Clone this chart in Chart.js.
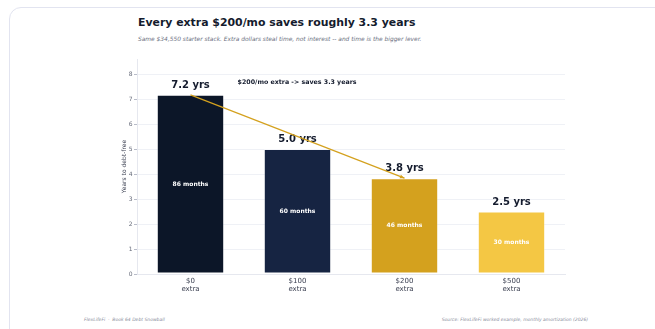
<!DOCTYPE html>
<html>
<head>
<meta charset="utf-8">
<script src="https://cdn.jsdelivr.net/npm/chart.js@4/dist/chart.umd.min.js"></script>
<style>
  html, body { margin: 0; padding: 0; background: #fff; }
  body { width: 655px; height: 329px; position: relative; overflow: hidden; font-family: "DejaVu Sans", sans-serif; }
  .card { position: absolute; left: 9px; top: 7px; width: 680px; height: 360px; border: 1px solid #e2e4f0; border-radius: 12px; box-sizing: border-box; }
  .title { position: absolute; left: 138px; top: 16px; font-size: 10.9px; font-weight: bold; color: #141b2d; white-space: nowrap; }
  .subtitle { position: absolute; left: 138px; top: 36px; font-size: 5.9px; font-style: italic; color: #6b6f80; white-space: nowrap; }
  .foot { position: absolute; top: 317px; font-size: 4.5px; font-style: italic; color: #8a8d9c; white-space: nowrap; }
  #chart { position: absolute; left: 0; top: 0; }
</style>
</head>
<body>
<div class="card"></div>
<div class="title">Every extra $200/mo saves roughly 3.3 years</div>
<div class="subtitle">Same $34,550 starter stack. Extra dollars steal time, not interest -- and time is the bigger lever.</div>
<div class="foot" style="left:84px">FlexLifeFi &nbsp;·&nbsp; Book 64 Debt Snowball</div>
<div class="foot" style="right:67px">Source: FlexLifeFi worked example, monthly amortization (2026)</div>
<canvas id="chart" width="655" height="329"></canvas>
<script>
const extraLabels = [['$0', 'extra'], ['$100', 'extra'], ['$200', 'extra'], ['$500', 'extra']]
const monthsToFree = [86, 60, 46, 30]
const yearsToFree = monthsToFree.map(m => m / 12)
const barColors = ['#0c1628', '#162442', '#d4a11e', '#f4c744']
const calloutText = '$200/mo extra -> saves 3.3 years'

// years above each bar, months inside it
const barLabels = {
  id: 'barLabels',
  afterDatasetsDraw(chart) {
    const ctx = chart.ctx
    const meta = chart.getDatasetMeta(0)
    ctx.save()
    ctx.textAlign = 'center'
    ctx.textBaseline = 'middle'
    meta.data.forEach((bar, i) => {
      ctx.fillStyle = '#141b2d'
      ctx.font = 'bold 10px "DejaVu Sans"'
      ctx.fillText(yearsToFree[i].toFixed(1) + ' yrs', bar.x, bar.y - 9.5)
      ctx.fillStyle = '#ffffff'
      ctx.font = 'bold 6px "DejaVu Sans"'
      ctx.fillText(monthsToFree[i] + ' months', bar.x, (bar.y + bar.base) / 2)
    })
    ctx.restore()
  }
}

// arrow from the $0 bar to the $200 bar plus its caption
const savingsArrow = {
  id: 'savingsArrow',
  afterDraw(chart) {
    const ctx = chart.ctx
    const x = chart.scales.x
    const y = chart.scales.y
    const x0 = x.getPixelForValue(0), y0 = y.getPixelForValue(yearsToFree[0])
    const x1 = x.getPixelForValue(2), y1 = y.getPixelForValue(yearsToFree[2])
    ctx.save()
    ctx.strokeStyle = '#d4a11e'
    ctx.fillStyle = '#d4a11e'
    ctx.lineWidth = 1.2
    ctx.beginPath()
    ctx.moveTo(x0, y0)
    ctx.lineTo(x1, y1)
    ctx.stroke()
    const a = Math.atan2(y1 - y0, x1 - x0)
    ctx.beginPath()
    ctx.moveTo(x1, y1)
    ctx.lineTo(x1 - 5 * Math.cos(a - 0.4), y1 - 5 * Math.sin(a - 0.4))
    ctx.lineTo(x1 - 5 * Math.cos(a + 0.4), y1 - 5 * Math.sin(a + 0.4))
    ctx.closePath()
    ctx.fill()
    ctx.fillStyle = '#141b2d'
    ctx.font = 'bold 6.3px "DejaVu Sans"'
    ctx.textAlign = 'left'
    ctx.textBaseline = 'middle'
    ctx.fillText(calloutText, x.getPixelForValue(0.44), y.getPixelForValue(7.66))
    ctx.restore()
  }
}

new Chart(document.getElementById('chart'), {
  type: 'bar',
  data: {
    labels: extraLabels,
    datasets: [{
      data: yearsToFree,
      backgroundColor: barColors,
      borderColor: 'rgba(255, 255, 255, 0.3)',
      borderWidth: 1,
      borderSkipped: false,
      categoryPercentage: 0.63,
      barPercentage: 1
    }]
  },
  options: {
    responsive: false,
    animation: false,
    layout: { padding: { left: 121, right: 90, top: 59, bottom: 29 } },
    plugins: { legend: { display: false }, tooltip: { enabled: false } },
    scales: {
      x: {
        grid: { display: false, drawTicks: true, tickLength: 3 },
        border: { color: '#e6e8ef' },
        ticks: { color: '#3c4152', font: { family: 'DejaVu Sans', size: 7 }, padding: 0 },
        afterFit: s => { s.height = 26 }
      },
      y: {
        min: 0,
        max: 8.6,
        grid: { color: '#eff1f6', tickLength: 3, tickColor: '#b8bcc8' },
        border: { color: '#e6e8ef' },
        ticks: { stepSize: 1, color: '#666b7a', font: { family: 'DejaVu Sans', size: 6 }, padding: 1.5 },
        afterBuildTicks: s => { s.ticks = s.ticks.filter(t => Number.isInteger(t.value)) },
        afterFit: s => { s.width = 16 },
        title: { display: true, text: 'Years to debt-free', color: '#3c4152', font: { family: 'DejaVu Sans', size: 6 }, padding: 0 }
      }
    }
  },
  plugins: [barLabels, savingsArrow]
})
</script>
</body>
</html>
